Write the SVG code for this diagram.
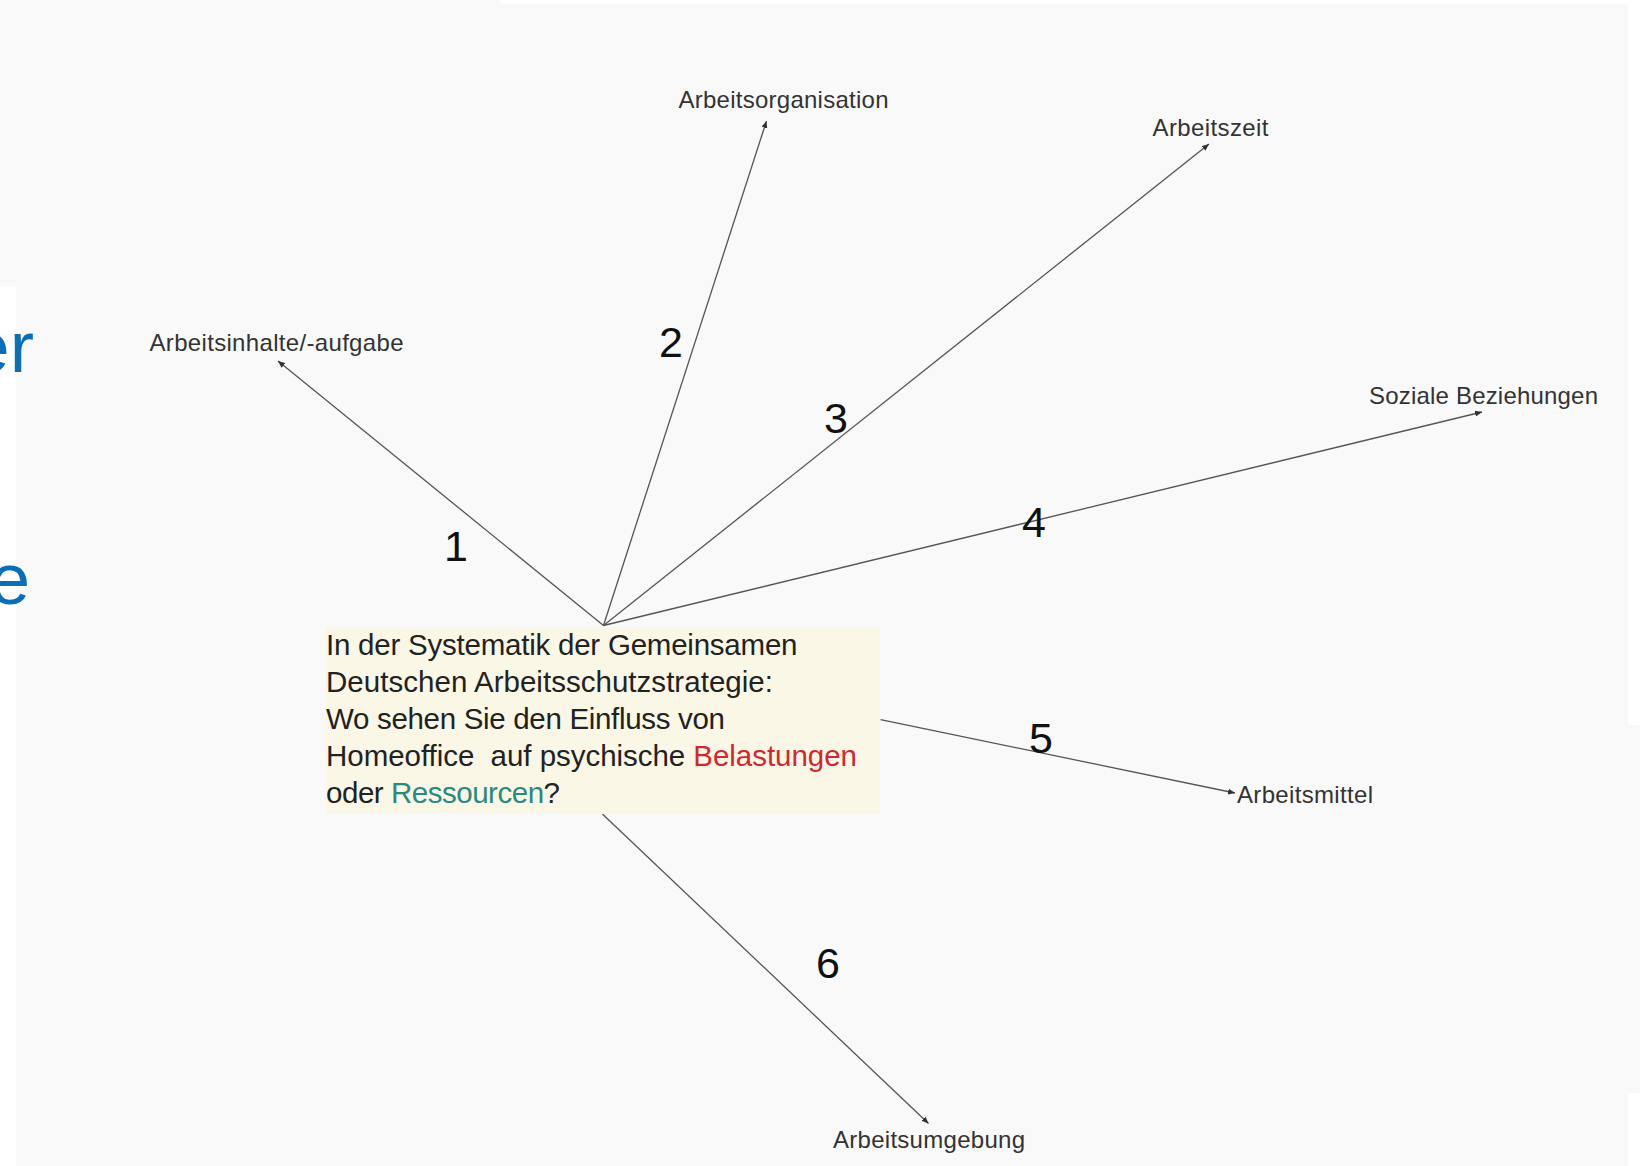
<svg xmlns="http://www.w3.org/2000/svg" width="1640" height="1166" viewBox="0 0 1640 1166">
  <defs>
    <style>
      .lbl { font-family: "Liberation Sans", Arial, sans-serif; font-size: 24px; fill: #333333; }
      .num { font-family: "Liberation Sans", Arial, sans-serif; font-size: 43px; fill: #111111; text-anchor: middle; }
      .q { font-family: "Liberation Sans", Arial, sans-serif; font-size: 29.5px; fill: #222222; white-space: pre; }
      .bg-frag { font-family: "Liberation Sans", Arial, sans-serif; font-size: 73px; fill: #0b6fb8; text-anchor: end; }
      .conn { stroke: #555555; stroke-width: 1.3; fill: none; marker-end: url(#arrow); }
    </style>
    <marker id="arrow" markerUnits="userSpaceOnUse" markerWidth="8" markerHeight="6" refX="7" refY="3" orient="auto">
      <path d="M0,0 L7,3 L0,6 z" fill="#333333"/>
    </marker>
  </defs>

  <!-- background -->
  <rect x="0" y="0" width="1640" height="1166" fill="#f9f9f9"/>
  <rect x="0" y="286" width="16" height="880" fill="#ffffff"/>
  <rect x="500" y="0" width="1140" height="4" fill="#ffffff"/>
  <rect x="1628" y="0" width="12" height="725" fill="#ffffff"/>
  <rect x="1628" y="1093" width="12" height="73" fill="#ffffff"/>

  <!-- partially visible background slide text -->
  <text class="bg-frag" x="34" y="372">er</text>
  <text class="bg-frag" x="30" y="604">e</text>

  <!-- connectors -->
  <g id="connectors">
    <line class="conn" x1="603.5" y1="625.5" x2="278" y2="361"/>
    <line class="conn" x1="603.5" y1="625.5" x2="766.5" y2="121"/>
    <line class="conn" x1="603.5" y1="625.5" x2="1209" y2="144"/>
    <line class="conn" x1="603.5" y1="625.5" x2="1482" y2="412"/>
    <line class="conn" x1="880.6" y1="719.6" x2="1235" y2="793"/>
    <line class="conn" x1="602.4" y1="814" x2="928.5" y2="1123.5"/>
    <text class="num" x="456" y="561">1</text>
    <text class="num" x="671" y="357">2</text>
    <text class="num" x="836" y="433">3</text>
    <text class="num" x="1034" y="537">4</text>
    <text class="num" x="1041" y="752.5">5</text>
    <text class="num" x="828" y="978">6</text>
  </g>

  <!-- central question node -->
  <g id="node-question">
    <rect x="326" y="627" width="554" height="187" fill="#fbf7e6"/>
    <text class="q" x="326" y="655" textLength="471.5">In der Systematik der Gemeinsamen</text>
    <text class="q" x="326" y="692" textLength="447">Deutschen Arbeitsschutzstrategie:</text>
    <text class="q" x="326" y="729" textLength="399">Wo sehen Sie den Einfluss von</text>
    <text class="q" x="326" y="766" textLength="531">Homeoffice  auf psychische <tspan fill="#d0282e">Belastungen</tspan></text>
    <text class="q" x="326" y="803" textLength="234">oder <tspan fill="#2a8a80">Ressourcen</tspan>?</text>
  </g>

  <g id="node-arbeitsinhalte">
    <text class="lbl" x="149.5" y="351" textLength="254">Arbeitsinhalte/-aufgabe</text>
  </g>
  <g id="node-arbeitsorganisation">
    <text class="lbl" x="678.5" y="107.5" textLength="210">Arbeitsorganisation</text>
  </g>
  <g id="node-arbeitszeit">
    <text class="lbl" x="1152.5" y="135.5" textLength="116">Arbeitszeit</text>
  </g>
  <g id="node-soziale-beziehungen">
    <text class="lbl" x="1369" y="404" textLength="229">Soziale Beziehungen</text>
  </g>
  <g id="node-arbeitsmittel">
    <text class="lbl" x="1237" y="802.5" textLength="136">Arbeitsmittel</text>
  </g>
  <g id="node-arbeitsumgebung">
    <text class="lbl" x="833" y="1148" textLength="192">Arbeitsumgebung</text>
  </g>
</svg>
